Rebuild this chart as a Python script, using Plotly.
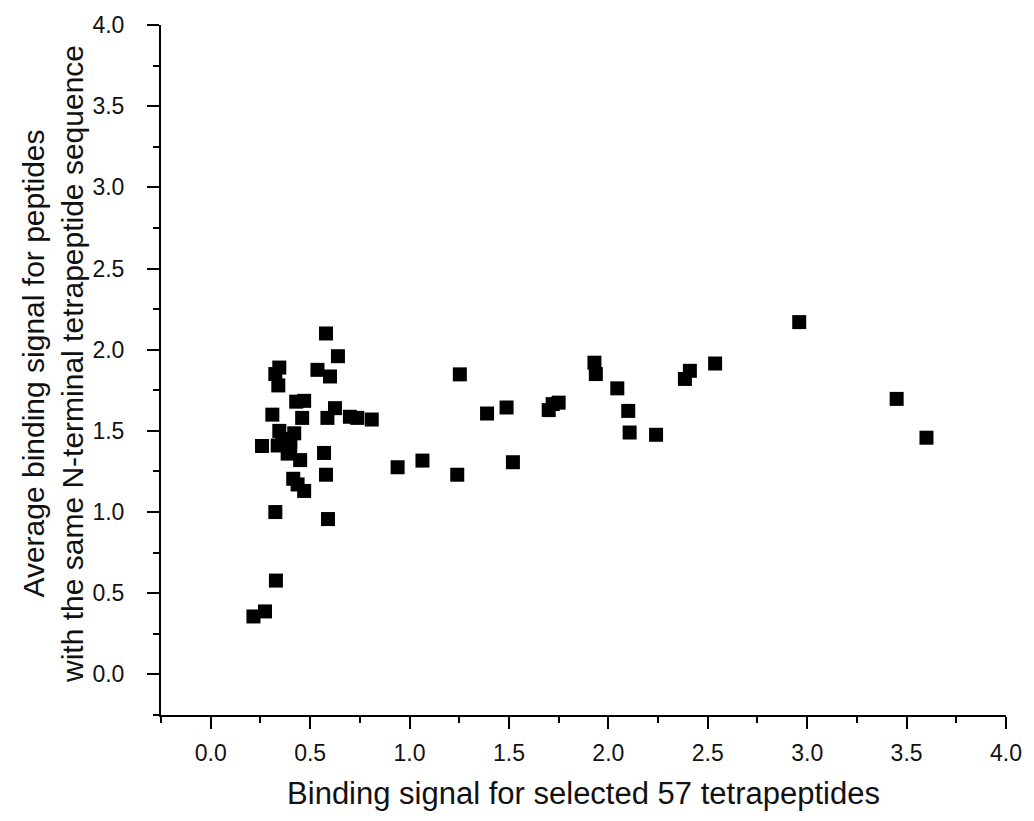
import plotly.graph_objects as go

x_vals = [0.58, 0.64, 0.345, 0.325, 0.34, 0.537, 0.60, 0.43, 0.47, 0.31,
          0.46, 0.625, 0.587, 0.70, 0.737, 0.81, 0.345, 0.42, 0.258, 0.337,
          0.40, 0.387, 0.45, 0.57, 0.58, 0.415, 0.437, 0.47, 0.325, 0.59,
          0.328, 0.215, 0.273, 1.253, 0.94, 1.065, 1.24, 1.39, 1.488, 1.52,
          1.70, 1.72, 1.75, 1.93, 1.937, 2.045, 2.10, 2.107, 2.24, 2.41,
          2.385, 2.537, 2.96, 3.45, 3.60, 0.36, 0.40]
y_vals = [2.10, 1.96, 1.89, 1.85, 1.78, 1.876, 1.835, 1.68, 1.685, 1.60,
          1.58, 1.64, 1.58, 1.587, 1.58, 1.57, 1.50, 1.485, 1.407, 1.41,
          1.40, 1.36, 1.32, 1.364, 1.23, 1.205, 1.17, 1.13, 1.00, 0.957,
          0.578, 0.357, 0.388, 1.848, 1.276, 1.317, 1.23, 1.607, 1.644, 1.307,
          1.628, 1.665, 1.674, 1.92, 1.85, 1.762, 1.623, 1.49, 1.476, 1.87,
          1.82, 1.915, 2.17, 1.697, 1.458, 1.45, 1.43]

x_title = "Binding signal for selected 57 tetrapeptides"
y_title = "Average binding signal for peptides<br>with the same N-terminal tetrapeptide sequence"

fig = go.Figure(go.Scatter(
    x=x_vals, y=y_vals, mode="markers",
    marker=dict(symbol="square", size=14, color="black", line=dict(width=0)),
))

font = "Liberation Sans, Arial, sans-serif"
axis_common = dict(
    showline=True, linecolor="black", linewidth=2, mirror=False,
    showgrid=False, zeroline=False,
    ticks="outside", ticklen=12, tickwidth=2, tickcolor="black",
    dtick=0.5, tick0=0, tickformat=".1f",
    tickfont=dict(family=font, size=23, color="#111111"),
    minor=dict(ticks="outside", ticklen=6, tickwidth=2, tickcolor="black", dtick=0.25, tick0=0),
)

fig.update_layout(
    width=1034, height=821,
    margin=dict(l=161, r=22, t=24, b=106),
    paper_bgcolor="white", plot_bgcolor="white",
    showlegend=False,
    xaxis=dict(range=[-0.25, 4.0], ticklabelstandoff=4,
               title=dict(text=x_title, font=dict(family=font, size=31, color="#111111"), standoff=18),
               **axis_common),
    yaxis=dict(range=[-0.25, 4.0], ticklabelstandoff=18, **axis_common),
    annotations=[dict(
        text=y_title, textangle=-90, xref="paper", yref="paper",
        x=0, y=0.5, xanchor="center", yanchor="middle", xshift=-108, yshift=6,
        showarrow=False, font=dict(family=font, size=30, color="#111111"),
    )],
)

fig.write_html("out.html")
